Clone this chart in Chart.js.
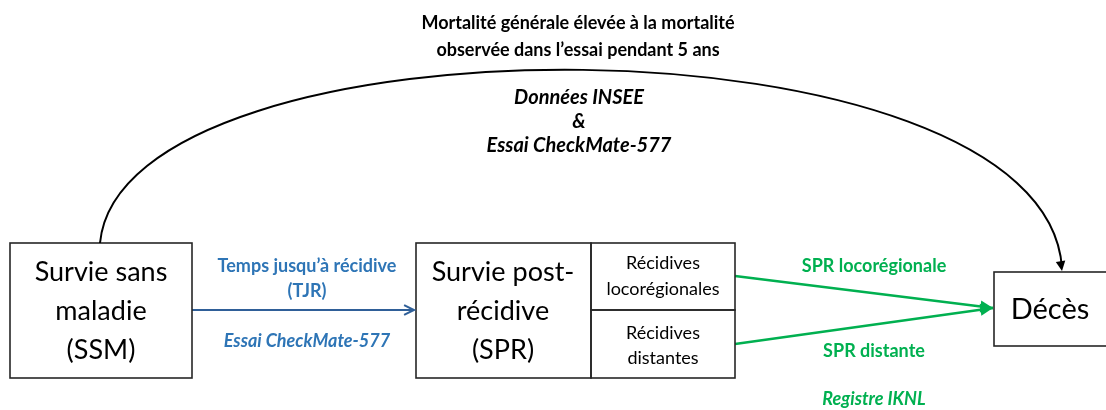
<!DOCTYPE html>
<html>
<head>
<meta charset="utf-8">
<script src="https://cdn.jsdelivr.net/npm/chart.js@4/dist/chart.umd.min.js"></script>
<style>
  html, body { margin: 0; background: #fff; }
  #wrap { width: 1106px; height: 410px; }
</style>
</head>
<body>
<div id="wrap"><canvas id="diagram"></canvas></div>
<script>
// diagram nodes, in picture units (x right, y down)
const boxes = [
    [10, 243, 192, 378],    // SSM
    [416, 243, 591, 378],   // SPR
    [591, 243, 735, 310],   // recidives locoregionales
    [591, 310, 735, 378],   // recidives distantes
    [994, 272, 1112, 346]   // deces (cut by the right edge)
];

// transitions
const tjrEdge = [{x: 192, y: 310}, {x: 414, y: 310}];
const locoEdge = [{x: 735, y: 276}, {x: 993, y: 308}];
const distEdge = [{x: 735, y: 344}, {x: 993, y: 308}];
// curved arrow SSM -> Deces: start, control 1, control 2, end
const arcPts = [[100, 243], [122, 8], [1045, 8], [1062, 271]];

const boxTexts = [
    ['Survie sans', 'maladie', '(SSM)'],
    ['Survie post-', 'récidive', '(SPR)'],
    ['Récidives', 'locorégionales'],
    ['Récidives', 'distantes'],
    ['Décès']
];
const titleLines = ['Mortalité générale élevée à la mortalité', 'observée dans l\u2019essai pendant 5 ans'];
const sourceLines = ['Données INSEE', '&', 'Essai CheckMate-577'];
const tjrLines = ['Temps jusqu\u2019à récidive', '(TJR)'];
const tjrSource = 'Essai CheckMate-577';
const locoLabel = 'SPR locorégionale';
const distLabel = 'SPR distante';
const spLabel = 'Registre IKNL';

const BLUE = '#2e75b6';
const BLUE_LINE = '#2f5f98';
const GREEN = '#00b050';
const FONT = 'Lato, "Open Sans", sans-serif';

function arrowHead(ctx, from, to, size, color, filled) {
    const a = Math.atan2(to.y - from.y, to.x - from.x);
    ctx.save();
    ctx.strokeStyle = color;
    ctx.fillStyle = color;
    ctx.beginPath();
    ctx.moveTo(to.x - size * Math.cos(a - 0.45), to.y - size * Math.sin(a - 0.45));
    ctx.lineTo(to.x, to.y);
    ctx.lineTo(to.x - size * Math.cos(a + 0.45), to.y - size * Math.sin(a + 0.45));
    if (filled) {
        ctx.closePath();
        ctx.fill();
    } else {
        ctx.lineWidth = 2;
        ctx.lineJoin = 'miter';
        ctx.stroke();
    }
    ctx.restore();
}

const diagramPlugin = {
    id: 'diagram',
    afterDatasetsDraw(chart) {
        const ctx = chart.ctx;
        const sx = chart.scales.x, sy = chart.scales.y;
        const px = v => sx.getPixelForValue(v);
        const py = v => sy.getPixelForValue(v);

        // boxes
        ctx.save();
        ctx.strokeStyle = '#262626';
        ctx.lineWidth = 1.6;
        boxes.forEach(b => {
            ctx.strokeRect(px(b[0]), py(b[1]), px(b[2]) - px(b[0]), py(b[3]) - py(b[1]));
        });
        ctx.restore();

        // curved arrow
        const p = arcPts.map(q => ({x: px(q[0]), y: py(q[1])}));
        ctx.save();
        ctx.strokeStyle = '#000';
        ctx.lineWidth = 2;
        ctx.beginPath();
        ctx.moveTo(p[0].x, p[0].y);
        ctx.bezierCurveTo(p[1].x, p[1].y, p[2].x, p[2].y, p[3].x, p[3].y - 3);
        ctx.stroke();
        ctx.restore();
        arrowHead(ctx, {x: p[3].x - 3, y: p[3].y - 20}, p[3], 11, '#000', true);

        // arrowheads on straight edges
        chart.data.datasets.forEach((ds, i) => {
            const pts = chart.getDatasetMeta(i).data;
            const a = pts[pts.length - 2], b = pts[pts.length - 1];
            arrowHead(ctx, a, b, ds.headSize, ds.borderColor, ds.headFilled);
        });

        // texts
        ctx.save();
        ctx.textAlign = 'center';
        ctx.textBaseline = 'middle';
        const lines = (arr, x, y0, dy) => arr.forEach((t, k) => ctx.fillText(t, px(x), py(y0 + k * dy)));

        ctx.fillStyle = '#000';
        ctx.font = 'bold 18px ' + FONT;
        lines(titleLines, 578, 23, 27);
        ctx.font = 'italic bold 20px ' + FONT;
        lines(sourceLines, 579, 98, 24);

        ctx.font = '27px ' + FONT;
        lines(boxTexts[0], 101, 272, 39);
        lines(boxTexts[1], 503, 272, 39);
        ctx.font = '29px ' + FONT;
        lines(boxTexts[4], 1050, 310, 0);
        ctx.font = '18px ' + FONT;
        lines(boxTexts[2], 663, 263, 26);
        lines(boxTexts[3], 663, 333, 25);

        ctx.fillStyle = BLUE;
        ctx.font = 'bold 18px ' + FONT;
        lines(tjrLines, 307, 266, 25);
        ctx.font = 'italic bold 18px ' + FONT;
        lines([tjrSource], 307, 341, 0);

        ctx.fillStyle = GREEN;
        ctx.font = 'bold 18px ' + FONT;
        lines([locoLabel], 874, 266, 0);
        lines([distLabel], 874, 351, 0);
        ctx.font = 'italic bold 18px ' + FONT;
        lines([spLabel], 874, 399, 0);
        ctx.restore();
    }
};

const edgeDataset = (data, color, width, head, filled) => ({
    type: 'line',
    data: data,
    borderColor: color,
    borderWidth: width,
    pointRadius: 0,
    showLine: true,
    tension: 0,
    headSize: head,
    headFilled: filled
});

new Chart(document.getElementById('diagram'), {
    type: 'scatter',
    data: {
        datasets: [
            edgeDataset(tjrEdge, BLUE_LINE, 2, 11, false),
            edgeDataset(locoEdge, GREEN, 2.5, 14, true),
            edgeDataset(distEdge, GREEN, 2.5, 14, true)
        ]
    },
    options: {
        responsive: true,
        maintainAspectRatio: false,
        animation: false,
        layout: { padding: 0 },
        plugins: { legend: { display: false }, tooltip: { enabled: false } },
        scales: {
            x: { type: 'linear', min: 0, max: 1106, display: false },
            y: { type: 'linear', min: 0, max: 410, reverse: true, display: false }
        }
    },
    plugins: [diagramPlugin]
});
</script>
</body>
</html>
